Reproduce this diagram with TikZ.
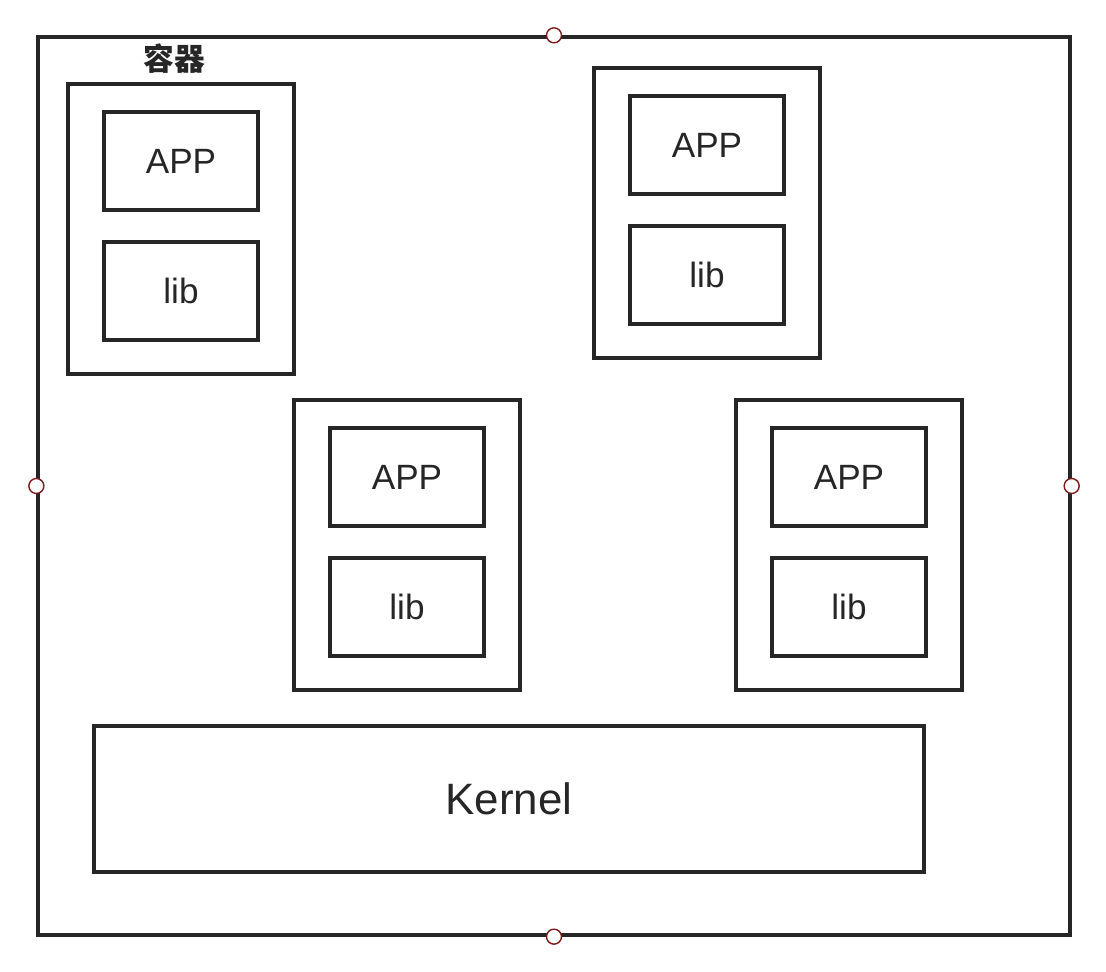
\documentclass[tikz,border=0pt]{standalone}
\usepackage{fontspec}
\setmainfont{Liberation Sans}
\newfontfamily\cjk{Noto Sans CJK SC}
\usetikzlibrary{positioning,calc,shapes}
\definecolor{pinred}{RGB}{122,26,26}
\definecolor{boxgray}{RGB}{38,38,38}
\tikzstyle{box}= [rectangle, draw=boxgray, line width=2pt, inner sep=0pt]
\tikzstyle{cont}= [box, minimum width=4.52cm, minimum height=5.8cm]
\tikzstyle{part}= [box, minimum width=3.08cm, minimum height=1.96cm, font=\fontsize{20}{24}\selectfont, text=boxgray]
\tikzstyle{pin}= [circle, draw=pinred, fill=white, line width=0.8pt, inner sep=0pt, minimum size=0.3cm]

\begin{document}
\begin{tikzpicture}[x=0.02cm,y=-0.02cm]
					\useasboundingbox (0,0) rectangle (1106,972);
					\node[box, minimum width=20.64cm, minimum height=17.96cm] at (554,486) (host) {};
					\node[pin] at (host.north) (pn) {};
					\node[pin] at (host.south) (ps) {};
					\node[pin] at (host.west) (pw) {};
					\node[pin] at (host.east) (pe) {};
					\node[font=\cjk\bfseries\fontsize{17.5}{20}\selectfont, text=boxgray] at (174,59) (title) {容器};
					\node[cont] at (181,229) (c1) {};
					\node[part] at (181,161) (app1) {APP};
					\node[part] at (181,291) (lib1) {lib};
					\node[cont] at (707,213) (c2) {};
					\node[part] at (707,145) (app2) {APP};
					\node[part] at (707,275) (lib2) {lib};
					\node[cont] at (407,545) (c3) {};
					\node[part] at (407,477) (app3) {APP};
					\node[part] at (407,607) (lib3) {lib};
					\node[cont] at (849,545) (c4) {};
					\node[part] at (849,477) (app4) {APP};
					\node[part] at (849,607) (lib4) {lib};
					\node[box, minimum width=16.6cm, minimum height=2.92cm, font=\fontsize{25}{30}\selectfont, text=boxgray] at (509,799) (kernel) {Kernel};
				\end{tikzpicture}
\end{document}
